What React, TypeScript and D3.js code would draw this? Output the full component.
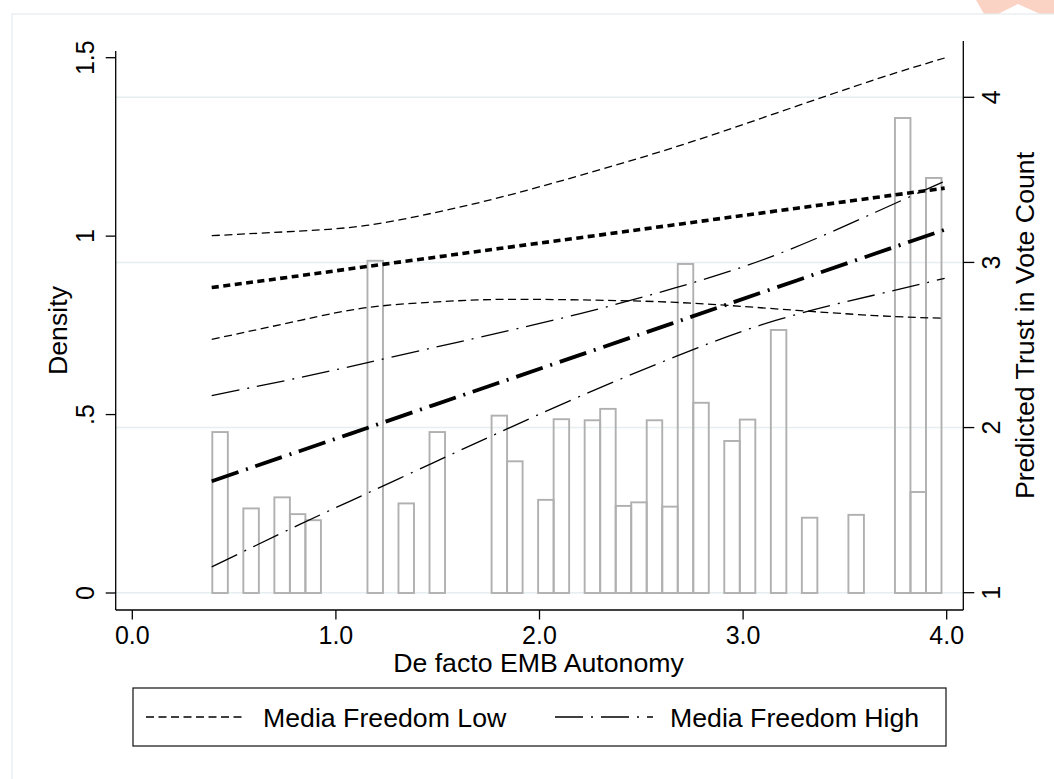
import React from 'react';
import * as d3 from 'd3';

// ---- data ----
const xTickValues = [0, 1, 2, 3, 4];
const xTickLabels = ['0.0', '1.0', '2.0', '3.0', '4.0'];
const leftTickValues = [0, 0.5, 1, 1.5];
const leftTickLabels = ['0', '.5', '1', '1.5'];
const rightTickValues = [1, 2, 3, 4];
const rightTickLabels = ['1', '2', '3', '4'];

// histogram (density) of De facto EMB Autonomy
const binStart = 0.393;
const binWidth = 0.0762;
const binDensity = [
  0.451, 0, 0.237, 0, 0.268, 0.221, 0.204, 0, 0, 0,
  0.931, 0, 0.251, 0, 0.451, 0, 0, 0, 0.497, 0.369,
  0, 0.261, 0.487, 0, 0.484, 0.516, 0.244, 0.254, 0.484, 0.242,
  0.922, 0.533, 0, 0.426, 0.486, 0, 0.737, 0, 0.211, 0,
  0, 0.219, 0, 0, 1.331, 0.283, 1.163,
];

// predicted trust in vote count
const predX = [0.39, 0.82, 1.15, 1.48, 1.80, 2.20, 2.67, 3.16, 3.65, 3.99];
const lowPred = [2.848, 2.919, 2.975, 3.030, 3.084, 3.150, 3.229, 3.311, 3.393, 3.450];
const lowUpper = [3.162, 3.190, 3.224, 3.300, 3.392, 3.527, 3.700, 3.903, 4.108, 4.238];
const lowLower = [2.534, 2.648, 2.726, 2.760, 2.776, 2.773, 2.758, 2.719, 2.678, 2.662];
const highPred = [1.675, 1.857, 1.996, 2.136, 2.271, 2.440, 2.639, 2.847, 3.054, 3.198];
const highUpper = [2.194, 2.302, 2.392, 2.484, 2.573, 2.690, 2.847, 3.045, 3.304, 3.492];
const highLower = [1.156, 1.412, 1.600, 1.788, 1.969, 2.190, 2.431, 2.649, 2.804, 2.904];

const legendLabels = ['Media Freedom Low', 'Media Freedom High'];
const xTitle = 'De facto EMB Autonomy';
const leftTitle = 'Density';
const rightTitle = 'Predicted Trust in Vote Count';

// ---- layout ----
const W = 1054;
const H = 779;
const plotLeft = 115.7;
const plotRight = 963.3;
const plotBottom = 610;
const rightAxisTop = 41;
const leftAxisTop = 51;
const FONT = '"Liberation Sans", Arial, Helvetica, sans-serif';
const TITLE_SIZE = 26.7;
const TICK_SIZE = 25;

const DASH_SHORT = '8 4.5';
const DASH_THICK_DOT = '7 4.5';
const DASH_DOT = '28 8 2 8';

export default function App() {
  const x = d3.scaleLinear().domain([0, 4]).range([132.3, 946.7]);
  const yL = d3.scaleLinear().domain([0, 1.5]).range([593, 57.7]);
  const yR = d3.scaleLinear().domain([1, 4]).range([592.7, 97.3]);

  const mkLine = (vals: number[]) =>
    d3
      .line<number>()
      .x((_, i) => x(predX[i]))
      .y((v) => yR(v))
      .curve(d3.curveNatural)(vals) as string;

  const bars = binDensity
    .map((d, i) => ({ d, x0: binStart + i * binWidth, x1: binStart + (i + 1) * binWidth }))
    .filter((b) => b.d > 0);

  const series = [
    { vals: lowUpper, w: 1.3, dash: DASH_SHORT },
    { vals: lowLower, w: 1.3, dash: DASH_SHORT },
    { vals: highUpper, w: 1.3, dash: DASH_DOT },
    { vals: highLower, w: 1.3, dash: DASH_DOT },
    { vals: lowPred, w: 3.6, dash: DASH_THICK_DOT },
    { vals: highPred, w: 3.8, dash: DASH_DOT },
  ];

  const legendY = 717;

  return (
    <svg
      width={W}
      height={H}
      style={{ position: 'absolute', left: 0, top: 0, background: '#fff' }}
      fontFamily={FONT}
    >
      <rect x={0} y={0} width={W} height={H} fill="#fff" />
      {/* faint top-right watermark shape */}
      <polygon points="976,0 1054,0 1054,14 1040,14 1018,4 998,14 984,14" fill="#fbd3c4" />
      {/* outer graph frame */}
      <rect x={12} y={14} width={W} height={H} fill="none" stroke="#e4ecef" strokeWidth={1.2} />

      {/* gridlines (right axis) */}
      {rightTickValues.map((v) => (
        <line key={'g' + v} x1={plotLeft} x2={plotRight} y1={yR(v)} y2={yR(v)} stroke="#e5eef0" strokeWidth={1.6} />
      ))}

      {/* histogram bars */}
      {bars.map((b, i) => (
        <rect
          key={'b' + i}
          x={x(b.x0)}
          y={yL(b.d)}
          width={x(b.x1) - x(b.x0)}
          height={yL(0) - yL(b.d)}
          fill="none"
          stroke="#b0b0b0"
          strokeWidth={1.9}
        />
      ))}

      {/* prediction lines */}
      {series.map((s, i) => (
        <path key={'s' + i} d={mkLine(s.vals)} fill="none" stroke="#000" strokeWidth={s.w} strokeDasharray={s.dash} />
      ))}

      {/* axes */}
      <line x1={plotLeft} x2={plotLeft} y1={leftAxisTop} y2={plotBottom} stroke="#000" strokeWidth={1.3} />
      <line x1={plotRight} x2={plotRight} y1={rightAxisTop} y2={plotBottom} stroke="#000" strokeWidth={1.3} />
      <line x1={plotLeft} x2={plotRight} y1={plotBottom} y2={plotBottom} stroke="#000" strokeWidth={1.3} />

      {/* left ticks */}
      {leftTickValues.map((v, i) => (
        <g key={'lt' + v}>
          <line x1={plotLeft - 10} x2={plotLeft} y1={yL(v)} y2={yL(v)} stroke="#000" strokeWidth={1.3} />
          <text
            transform={`translate(94,${yL(v)}) rotate(-90)`}
            textAnchor="middle"
            fontSize={TICK_SIZE}
            fill="#000"
          >
            {leftTickLabels[i]}
          </text>
        </g>
      ))}
      <text transform={`translate(67,${(leftAxisTop + plotBottom) / 2}) rotate(-90)`} textAnchor="middle" fontSize={TITLE_SIZE}>
        {leftTitle}
      </text>

      {/* right ticks */}
      {rightTickValues.map((v, i) => (
        <g key={'rt' + v}>
          <line x1={plotRight} x2={plotRight + 11} y1={yR(v)} y2={yR(v)} stroke="#000" strokeWidth={1.3} />
          <text
            transform={`translate(1000,${yR(v)}) rotate(-90)`}
            textAnchor="middle"
            fontSize={TICK_SIZE}
            fill="#000"
          >
            {rightTickLabels[i]}
          </text>
        </g>
      ))}
      <text transform={`translate(1034,${(rightAxisTop + plotBottom) / 2}) rotate(-90)`} textAnchor="middle" fontSize={TITLE_SIZE}>
        {rightTitle}
      </text>

      {/* x ticks */}
      {xTickValues.map((v, i) => (
        <g key={'xt' + v}>
          <line x1={x(v)} x2={x(v)} y1={plotBottom} y2={plotBottom + 9.5} stroke="#000" strokeWidth={1.3} />
          <text x={x(v)} y={644} textAnchor="middle" fontSize={TICK_SIZE} fill="#000">
            {xTickLabels[i]}
          </text>
        </g>
      ))}
      <text x={(plotLeft + plotRight) / 2 - 1} y={672} textAnchor="middle" fontSize={TITLE_SIZE}>
        {xTitle}
      </text>

      {/* legend */}
      <rect x={133} y={688} width={813} height={58} fill="#fff" stroke="#222" strokeWidth={1.3} />
      <line x1={146} x2={246} y1={legendY} y2={legendY} stroke="#000" strokeWidth={1.3} strokeDasharray={DASH_SHORT} />
      <text x={263} y={legendY + 9.5} fontSize={TITLE_SIZE}>
        {legendLabels[0]}
      </text>
      <line x1={555} x2={653} y1={legendY} y2={legendY} stroke="#000" strokeWidth={1.3} strokeDasharray={DASH_DOT} />
      <text x={670} y={legendY + 9.5} fontSize={TITLE_SIZE}>
        {legendLabels[1]}
      </text>
    </svg>
  );
}
